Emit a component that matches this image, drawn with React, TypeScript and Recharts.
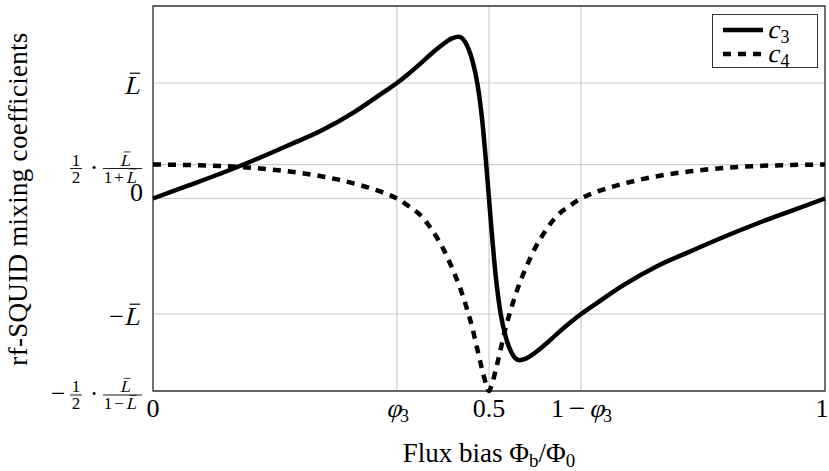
import { LineChart, Line, XAxis, YAxis, CartesianGrid, ReferenceArea, Legend } from "recharts";

// flux bias Phi_b / Phi_0
const fluxBias = [
  0, 0.05, 0.1, 0.15, 0.2, 0.25, 0.3, 0.34, 0.363, 0.38, 0.4, 0.415, 0.43, 0.445, 0.455, 0.465, 0.475, 0.483,
  0.49, 0.496, 0.5, 0.504, 0.51, 0.517, 0.525, 0.535, 0.545, 0.555, 0.57, 0.585, 0.6, 0.62, 0.637, 0.66, 0.7,
  0.75, 0.8, 0.85, 0.9, 0.95, 1,
];

const c3Values = [
  0, 0.075, 0.15, 0.232, 0.32, 0.41, 0.525, 0.635, 0.7, 0.755, 0.825, 0.88, 0.93, 0.97, 0.98, 0.945, 0.84, 0.69,
  0.47, 0.2, 0, -0.2, -0.47, -0.69, -0.84, -0.945, -0.98, -0.97, -0.93, -0.88, -0.825, -0.755, -0.7, -0.635,
  -0.525, -0.41, -0.32, -0.232, -0.15, -0.075, 0,
];

const c4Values = [
  0.206, 0.203, 0.197, 0.185, 0.165, 0.135, 0.09, 0.04, 0, -0.045, -0.11, -0.19, -0.29, -0.42, -0.52, -0.64,
  -0.78, -0.92, -1.04, -1.13, -1.1667, -1.13, -1.04, -0.92, -0.78, -0.64, -0.52, -0.42, -0.29, -0.19, -0.11,
  -0.045, 0, 0.04, 0.09, 0.135, 0.165, 0.185, 0.197, 0.203, 0.206,
];

const xTicks = [0, 0.363, 0.5, 0.637, 1];
const xTickLabels = ["0", "φ3", "0.5", "1 − φ3", "1"];

const yTicks = [-1.1667, -0.7, 0, 0.2059, 0.7];
const yTickLabels = ["−½·L̄/(1−L̄)", "−L̄", "0", "½·L̄/(1+L̄)", "L̄"];

const seriesNames = ["c3", "c4"];

const data = fluxBias.map((x, i) => ({ x, c3: c3Values[i], c4: c4Values[i] }));

const serif = "'Liberation Serif', 'Times New Roman', serif";
const SKEW = -14;

// slanted (math italic) text, faked with a skew since no serif italic is around
const Slanted = ({ x, y, size, anchor, children }: any) => (
  <text
    transform={`translate(${x} ${y}) skewX(${SKEW})`}
    x={0}
    y={0}
    textAnchor={anchor || "start"}
    fontFamily={serif}
    fontSize={size}
    fill="#000"
  >
    {children}
  </text>
);

// italic L with a bar drawn over it
const LBar = ({ x, y, size }: { x: number; y: number; size: number }) => (
  <g>
    <Slanted x={x} y={y} size={size}>
      L
    </Slanted>
    <line
      x1={x + size * 0.22}
      x2={x + size * 0.62}
      y1={y - size * 0.8}
      y2={y - size * 0.8}
      stroke="#000"
      strokeWidth={size * 0.045}
    />
  </g>
);

const renderXTick = (props: any) => {
  const { x, payload } = props;
  const label = xTickLabels[xTicks.indexOf(payload.value)] ?? "";
  const k = label.indexOf("φ");
  const cx = Math.min(x, 822);
  if (k < 0) {
    return (
      <text x={cx} y={417} textAnchor="middle" fontFamily={serif} fontSize={26} fill="#000">
        {label}
      </text>
    );
  }
  const prefix = label.slice(0, k);
  const sub = label.slice(k + 1);
  // prefix "1 − " then slanted phi and subscript
  const left = prefix ? cx - 30 : cx - 11;
  return (
    <g>
      {prefix && (
        <text x={left} y={417} fontFamily={serif} fontSize={26} fill="#000">
          {prefix.trim()}
        </text>
      )}
      {prefix && (
        <text x={left + 25} y={417} textAnchor="middle" fontFamily={serif} fontSize={26} fill="#000">
          −
        </text>
      )}
      <Slanted x={prefix ? left + 38 : left} y={417} size={26}>
        φ
      </Slanted>
      <text x={(prefix ? left + 38 : left) + 14} y={422} fontFamily={serif} fontSize={18} fill="#000">
        {sub}
      </text>
    </g>
  );
};

const renderYTick = (props: any) => {
  const { y, payload } = props;
  const label = yTickLabels[yTicks.indexOf(payload.value)] ?? "";
  const R = 143;
  const m = label.match(/^(−?)½·L̄\/\((.+)\)$/);
  if (m) {
    const bar = y + 4;
    const op = m[2].charAt(1);
    return (
      <g fontFamily={serif} fill="#000">
        {m[1] && (
          <text x={R - 85} y={bar + 7} fontSize={26} textAnchor="middle">
            −
          </text>
        )}
        <text x={R - 67} y={bar - 3} fontSize={17} textAnchor="middle">
          1
        </text>
        <line x1={R - 73} x2={R - 61} y1={bar} y2={bar} stroke="#000" strokeWidth={0.9} />
        <text x={R - 67} y={bar + 14} fontSize={17} textAnchor="middle">
          2
        </text>
        <text x={R - 49} y={bar + 7} fontSize={26} textAnchor="middle">
          ·
        </text>
        <LBar x={R - 23} y={bar - 3} size={17} />
        <line x1={R - 40} x2={R - 1} y1={bar} y2={bar} stroke="#000" strokeWidth={0.9} />
        <text x={R - 35} y={bar + 14} fontSize={17} textAnchor="middle">
          1
        </text>
        <text x={R - 24} y={bar + 14} fontSize={17} textAnchor="middle">
          {op}
        </text>
        <LBar x={R - 17} y={bar + 14} size={17} />
      </g>
    );
  }
  if (label === "0") {
    return (
      <text x={R} y={y + 2} textAnchor="end" fontFamily={serif} fontSize={26} fill="#000">
        0
      </text>
    );
  }
  const neg = label.startsWith("−");
  return (
    <g>
      {neg && (
        <text x={R - 19} y={y + 11} textAnchor="end" fontFamily={serif} fontSize={26} fill="#000">
          −
        </text>
      )}
      <LBar x={R - 19} y={y + 11} size={26} />
    </g>
  );
};

const renderLegend = () => (
  <div
    style={{
      border: "1px solid #333",
      background: "#fff",
      fontFamily: serif,
      fontSize: 26,
      padding: "3px 8px 3px 10px",
      boxSizing: "border-box",
      width: 106,
      height: 54,
    }}
  >
    {seriesNames.map((name, i) => (
      <div key={name} style={{ display: "flex", alignItems: "center", height: 24 }}>
        <svg width={40} height={10} style={{ marginRight: 6 }}>
          <line
            x1={0}
            x2={40}
            y1={5}
            y2={5}
            stroke="#000"
            strokeWidth={4.5}
            strokeDasharray={i === 1 ? "8 7" : undefined}
          />
        </svg>
        <span style={{ lineHeight: "24px", whiteSpace: "nowrap" }}>
          <span style={{ display: "inline-block", transform: `skewX(${SKEW}deg)` }}>{name.charAt(0)}</span>
          <span style={{ fontSize: 18, verticalAlign: "-5px", lineHeight: "10px" }}>{name.slice(1)}</span>
        </span>
      </div>
    ))}
  </div>
);

const App = () => {
  return (
    <div style={{ position: "relative", width: 829, height: 471 }}>
      <style>{"body{margin:0;background:#fff}"}</style>
      <LineChart width={829} height={471} data={data} margin={{ top: 6, right: 4, bottom: 0, left: 0 }}>
        <CartesianGrid stroke="#cccccc" strokeWidth={1.2} />
        <XAxis
          dataKey="x"
          type="number"
          domain={[0, 1]}
          ticks={xTicks}
          height={80}
          axisLine={false}
          tickLine={false}
          tick={renderXTick}
          interval={0}
          label={{
            content: () => (
              <text x={489} y={462} textAnchor="middle" fontFamily={serif} fontSize={27} fill="#000">
                Flux bias Φ<tspan fontSize={19} dy={5}>b</tspan>
                <tspan dy={-5}>/Φ</tspan>
                <tspan fontSize={19} dy={5}>0</tspan>
              </text>
            ),
          }}
        />
        <YAxis
          type="number"
          domain={[-1.1667, 1.1667]}
          ticks={yTicks}
          width={153}
          axisLine={false}
          tickLine={false}
          tick={renderYTick}
          interval={0}
          label={{
            content: () => (
              <text
                x={27}
                y={199}
                transform="rotate(-90 27 199)"
                textAnchor="middle"
                fontFamily={serif}
                fontSize={27}
                letterSpacing={0.3}
                fill="#000"
              >
                rf-SQUID mixing coefficients
              </text>
            ),
          }}
        />
        <ReferenceArea
          x1={0}
          x2={1}
          y1={-1.1667}
          y2={1.1667}
          fill="none"
          stroke="#3a3a3a"
          strokeWidth={1.3}
          ifOverflow="visible"
        />
        <Line
          type="monotone"
          dataKey="c3"
          name={seriesNames[0]}
          stroke="#000"
          strokeWidth={4.5}
          dot={false}
          activeDot={false}
          isAnimationActive={false}
        />
        <Line
          type="monotone"
          dataKey="c4"
          name={seriesNames[1]}
          stroke="#000"
          strokeWidth={4.5}
          strokeDasharray="8 7"
          dot={false}
          activeDot={false}
          isAnimationActive={false}
        />
        <Legend
          layout="vertical"
          align="center"
          verticalAlign="middle"
          content={renderLegend}
          wrapperStyle={{ top: 14, left: 712, width: 106, height: 54 }}
        />
      </LineChart>
    </div>
  );
};

export default App;
